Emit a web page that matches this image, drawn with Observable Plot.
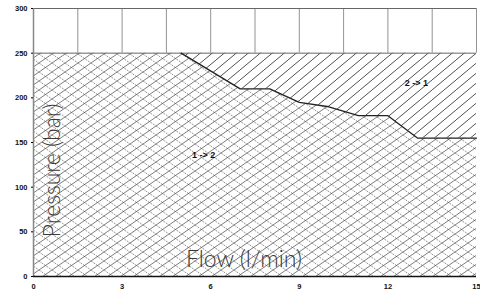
<!DOCTYPE html>
<html>
<head>
<meta charset="utf-8">
<script src="https://cdn.jsdelivr.net/npm/d3@7"></script>
<script src="https://cdn.jsdelivr.net/npm/@observablehq/plot@0.6"></script>
<style>
  html, body { margin: 0; padding: 0; background: #fff; }
  #chart { width: 480px; height: 295px; }
</style>
</head>
<body>
<div id="chart"></div>
<script>
// Boundary between the two regions
const flow = [0, 5, 7, 8, 9, 10, 11, 12, 13, 15];
const pressure = [250, 250, 210, 210, 195, 190, 180, 180, 155, 155];
const maxPressure = 250;
const xTicks = [0, 3, 6, 9, 12, 15];
const yTicks = [0, 50, 100, 150, 200, 250, 300];
const gridX = [0, 1.5, 3, 4.5, 6, 7.5, 9, 10.5, 12, 13.5, 15];
const regionLabels = ["1 -> 2", "2 -> 1"];
const labelX = [5.76, 12.96];
const labelY = [135.5, 216.5];

const curve = flow.map((x, i) => ({x, y: pressure[i]}));
const labels = regionLabels.map((t, i) => ({t, x: labelX[i], y: labelY[i]}));

const chart = Plot.plot({
  width: 480,
  height: 295,
  marginLeft: 33,
  marginRight: 4,
  marginTop: 8,
  marginBottom: 19,
  style: {fontFamily: "Liberation Sans, Arial, sans-serif", background: "#fff"},
  x: {domain: [0, 15]},
  y: {domain: [0, 300]},
  marks: [
    Plot.areaY(curve, {x: "x", y1: 0, y2: "y", fill: "url(#crossHatch)"}),
    Plot.areaY(curve, {x: "x", y1: "y", y2: maxPressure, fill: "url(#singleHatch)"}),
    Plot.ruleX(gridX, {y1: maxPressure, y2: 300, stroke: "#777", strokeWidth: 0.8}),
    Plot.ruleY([maxPressure, 300], {stroke: "#666", strokeWidth: 1}),
    Plot.line(curve, {filter: d => d.x >= 5, x: "x", y: "y", stroke: "#222", strokeWidth: 1.3}),
    Plot.ruleX([0], {stroke: "#888", strokeWidth: 1.5}),
    Plot.ruleY([0], {stroke: "#111", strokeWidth: 1.6}),
    Plot.axisX({ticks: xTicks, tickSize: 0, tickPadding: 7, tickFormat: d => d, label: null, fontWeight: "bold", fontSize: 7.5, fill: "#111"}),
    Plot.axisY({ticks: yTicks, tickSize: 2, tickPadding: 4, tickFormat: d => d, label: null, fontWeight: "bold", fontSize: 7.5, fill: "#111"}),
    Plot.text(labels, {x: "x", y: "y", text: "t", fontWeight: "bold", fontSize: 9, fill: "#111"}),
    Plot.text(["Pressure (bar)"], {frameAnchor: "left", textAnchor: "middle", dx: 19, dy: 28, rotate: -90, fontSize: 23, fontWeight: 300, fill: "#3a3a3a", fontFamily: "Lato, sans-serif"}),
    Plot.text(["Flow (l/min)"], {frameAnchor: "bottom", dx: -11, dy: -10, fontSize: 23, fontWeight: 300, fill: "#3a3a3a", fontFamily: "Lato, sans-serif"})
  ]
});

const svg = d3.select(chart);
const defs = svg.insert("defs", ":first-child");
const cross = defs.append("pattern")
  .attr("id", "crossHatch").attr("patternUnits", "userSpaceOnUse")
  .attr("width", 13).attr("height", 9);
cross.append("rect").attr("width", 13).attr("height", 9).attr("fill", "#fff");
cross.append("path").attr("d", "M0,0L13,9M-1,8L1,10M12,-1L14,1")
  .attr("stroke", "#888").attr("stroke-width", 0.9).attr("stroke-dasharray", "2,1");
cross.append("path").attr("d", "M0,9L13,0M-1,1L1,-1M12,10L14,8")
  .attr("stroke", "#444").attr("stroke-width", 0.7);
const single = defs.append("pattern")
  .attr("id", "singleHatch").attr("patternUnits", "userSpaceOnUse")
  .attr("width", 12).attr("height", 10);
single.append("rect").attr("width", 12).attr("height", 10).attr("fill", "#fff");
single.append("path").attr("d", "M0,10L12,0M-1,1L1,-1M11,11L13,9")
  .attr("stroke", "#222").attr("stroke-width", 0.8);

document.getElementById("chart").appendChild(chart);
</script>
</body>
</html>
